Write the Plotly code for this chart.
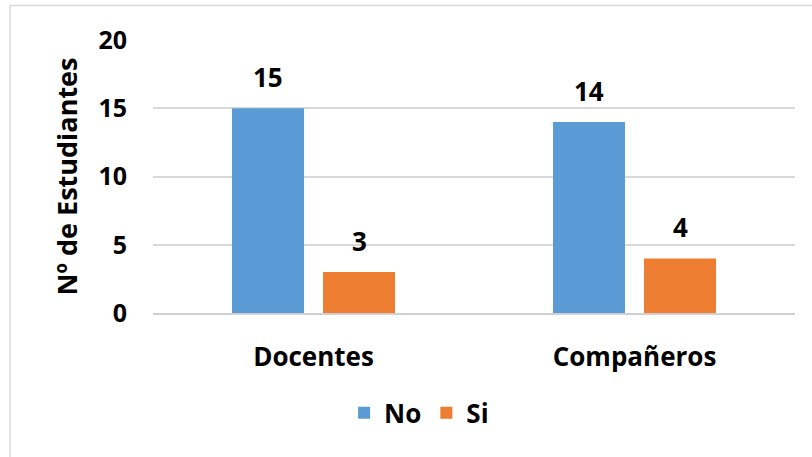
import plotly.graph_objects as go

categories = ["Docentes", "Compañeros"]
series_names = ["No", "Si"]
values_no = [15, 14]
values_si = [3, 4]
y_ticks = [0, 5, 10, 15, 20]

colors = {"No": "#5B9BD5", "Si": "#ED7D31"}
FONT = "Open Sans"
FS = 26

fig = go.Figure()
for name, vals in [("No", values_no), ("Si", values_si)]:
    fig.add_trace(go.Bar(
        x=categories, y=vals, name=name,
        marker=dict(color=colors[name], line=dict(width=0)),
    ))

# data labels
offsets = {"No": -45.5, "Si": 45.5}
for name, vals in [("No", values_no), ("Si", values_si)]:
    for c, v in zip(categories, vals):
        fig.add_annotation(
            x=c, y=v, text=str(v), showarrow=False,
            xshift=offsets[name], yshift=11, yanchor="bottom",
            font=dict(family=FONT, size=FS, color="#000000", weight="bold"),
        )

fig.update_layout(
    width=812, height=457,
    margin=dict(l=153, r=17, t=40, b=144),
    paper_bgcolor="white", plot_bgcolor="white",
    barmode="group", bargap=0.433, bargroupgap=0.209,
    font=dict(family=FONT, size=FS, color="#000000", weight="bold"),
    showlegend=True,
    legend=dict(orientation="h", x=0.4145, xanchor="center", y=-0.366, yanchor="middle",
                font=dict(family=FONT, size=FS, color="#000000", weight="bold"),
                itemwidth=30, traceorder="normal"),
    xaxis=dict(showgrid=False, showline=True, linecolor="#d0d0d0", linewidth=2,
               ticks="", ticklabelstandoff=20,
               tickfont=dict(family=FONT, size=FS, color="#000000", weight="bold")),
    yaxis=dict(range=[0, 20], tickvals=y_ticks, showgrid=True, gridcolor="#d9d9d9", gridwidth=1.5,
               zeroline=False, showline=False, ticks="", ticklabelstandoff=25,
               tickfont=dict(family=FONT, size=FS - 1, color="#000000", weight="bold"),
               title=dict(text="Nº de Estudiantes", standoff=12,
                          font=dict(family=FONT, size=27, color="#000000", weight="bold"))),
    shapes=[dict(type="rect", xref="paper", yref="paper",
                 x0=(10 - 153) / 642, x1=1.2, y0=-1.0, y1=(313 - 5.5) / 273,
                 line=dict(color="#d9d9d9", width=1.5), fillcolor="rgba(0,0,0,0)", layer="below")],
)

fig.write_html("out.html", config={"displayModeBar": False},
               post_script="document.body.style.margin='0';document.body.style.overflow='hidden';")
